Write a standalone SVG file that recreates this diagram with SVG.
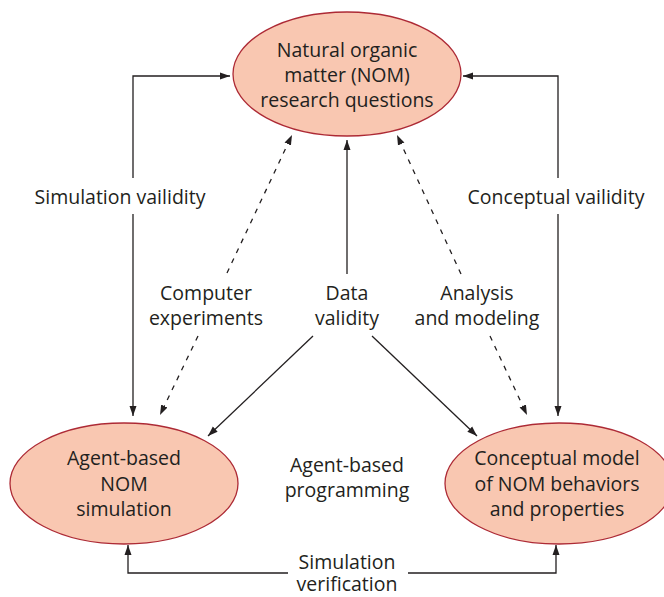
<svg xmlns="http://www.w3.org/2000/svg" width="664" height="597" viewBox="0 0 664 597">
<style>
.node{fill:#f9c7b1;stroke:#ad2a35;stroke-width:1.3}
text{font-family:"Open Sans","Liberation Sans",sans-serif;font-size:19.5px;fill:#231f20;text-anchor:middle}
.c{fill:none;stroke:#231f20;stroke-width:1.3}
.d{stroke-dasharray:5 6}
</style>
<defs>
<marker id="ah" markerUnits="userSpaceOnUse" markerWidth="11" markerHeight="8" refX="10" refY="4" orient="auto">
<path d="M0,0.5 L10,4 L0,7.5 z" fill="#231f20"/>
</marker>
</defs>
<rect width="664" height="597" fill="#fff"/>
<g id="connectors">
<path class="c" d="M133,178 V76 H230" marker-end="url(#ah)"/>
<path class="c" d="M133,214 V416" marker-end="url(#ah)"/>
<path class="c" d="M558,178 V76 H463" marker-end="url(#ah)"/>
<path class="c" d="M558,214 V416" marker-end="url(#ah)"/>
<path class="c" d="M288,573 H128 V545" marker-end="url(#ah)"/>
<path class="c" d="M408,573 H556 V545" marker-end="url(#ah)"/>
<path class="c" d="M347,274 V140" marker-end="url(#ah)"/>
<path class="c" d="M313,336 L208,436" marker-end="url(#ah)"/>
<path class="c" d="M372,336 L477,436" marker-end="url(#ah)"/>
<path class="c d" d="M227,273 L292,135" marker-end="url(#ah)"/>
<path class="c d" d="M198,336 L160,415" marker-end="url(#ah)"/>
<path class="c d" d="M461,274 L397,135" marker-end="url(#ah)"/>
<path class="c d" d="M490,336 L527,415" marker-end="url(#ah)"/>
<text x="120" y="204">Simulation vailidity</text>
<text x="556" y="204">Conceptual vailidity</text>
<text x="206" y="300">Computer</text>
<text x="206" y="325">experiments</text>
<text x="347" y="300">Data</text>
<text x="347" y="325">validity</text>
<text x="477" y="300">Analysis</text>
<text x="477" y="325">and modeling</text>
<text x="347" y="472">Agent-based</text>
<text x="347" y="497">programming</text>
<text x="347" y="569">Simulation</text>
<text x="347" y="591">verification</text>
</g>
<g id="nom-questions">
<ellipse class="node" cx="347" cy="74" rx="114" ry="62"/>
<text x="347" y="57">Natural organic</text>
<text x="347" y="82">matter (NOM)</text>
<text x="347" y="107">research questions</text>
</g>
<g id="agent-simulation">
<ellipse class="node" cx="124" cy="483.5" rx="114" ry="60.5"/>
<text x="124" y="465">Agent-based</text>
<text x="124" y="491">NOM</text>
<text x="124" y="516">simulation</text>
</g>
<g id="conceptual-model">
<ellipse class="node" cx="559" cy="483.5" rx="114" ry="60.5"/>
<text x="557" y="465">Conceptual model</text>
<text x="557" y="491">of NOM behaviors</text>
<text x="557" y="516">and properties</text>
</g>
</svg>
